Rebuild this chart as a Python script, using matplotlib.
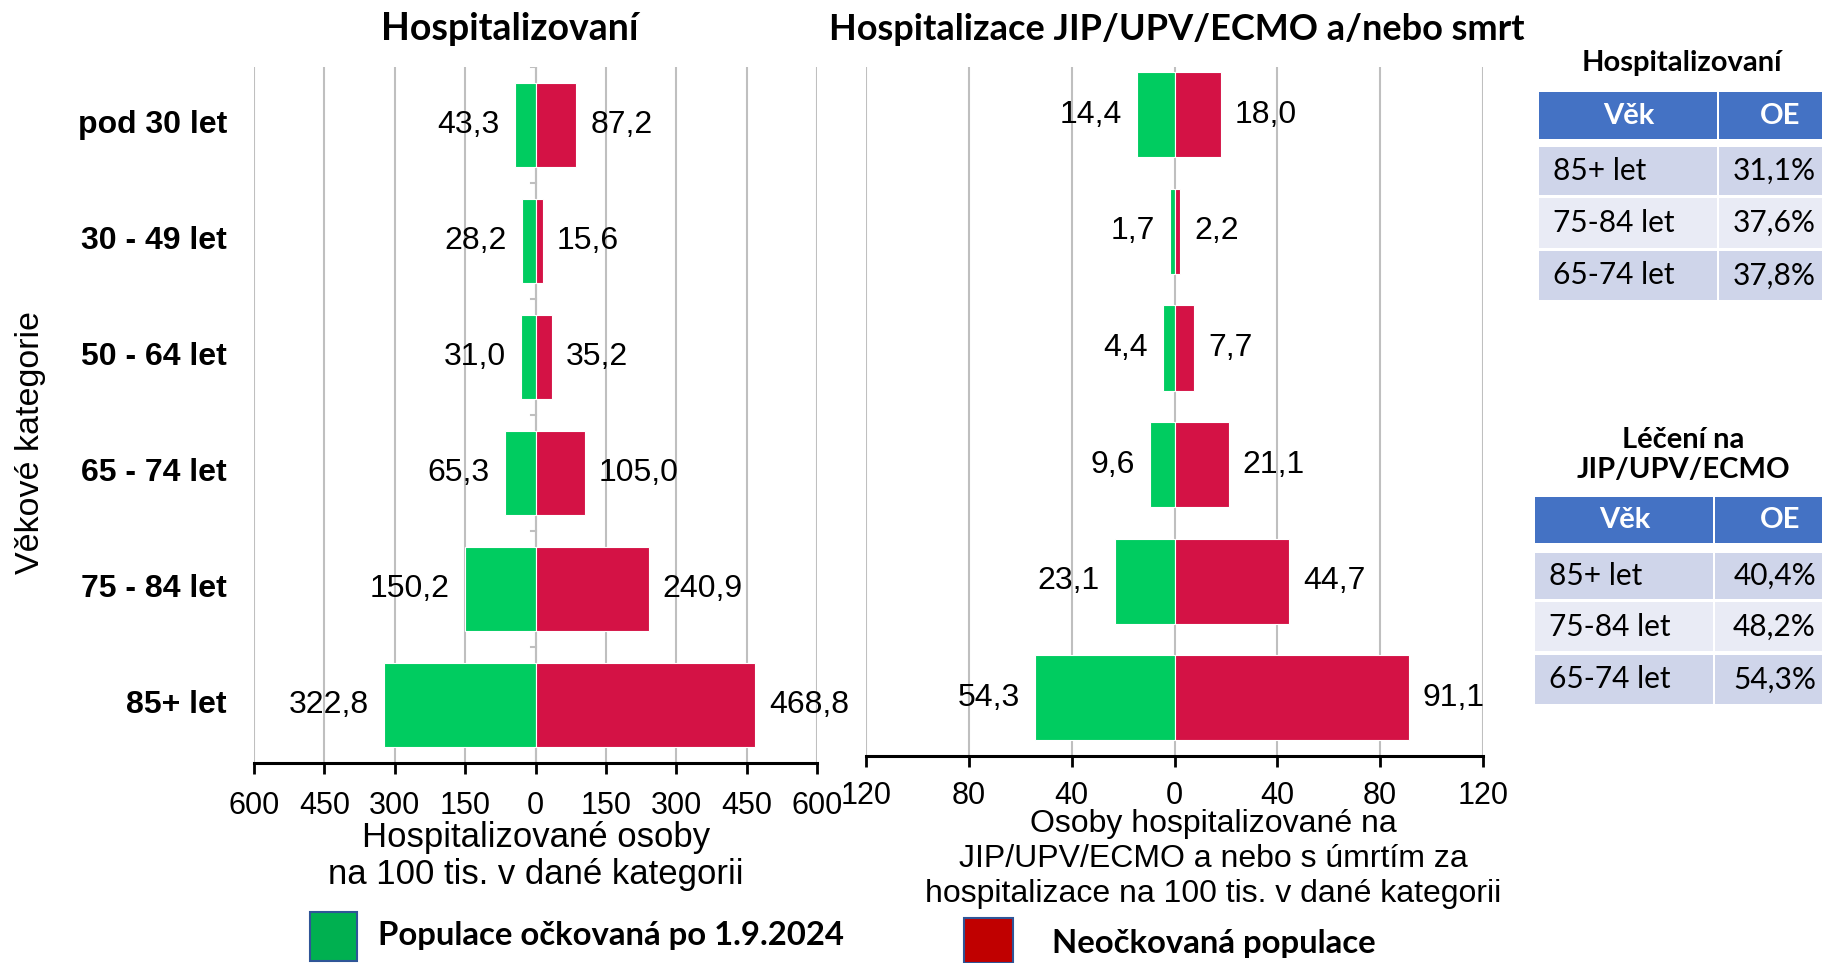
import numpy as np
import matplotlib.pyplot as plt
from matplotlib.patches import Rectangle

# data
categories = ['pod 30 let', '30 - 49 let', '50 - 64 let', '65 - 74 let', '75 - 84 let', '85+ let']
hosp_vacc = [43.3, 28.2, 31.0, 65.3, 150.2, 322.8]
hosp_unvacc = [87.2, 15.6, 35.2, 105.0, 240.9, 468.8]
icu_vacc = [14.4, 1.7, 4.4, 9.6, 23.1, 54.3]
icu_unvacc = [18.0, 2.2, 7.7, 21.1, 44.7, 91.1]

hosp_ticks = [-600, -450, -300, -150, 0, 150, 300, 450, 600]
icu_ticks = [-120, -80, -40, 0, 40, 80, 120]

table_ages = ['85+ let', '75-84 let', '65-74 let']
oe_hosp = ['31,1%', '37,6%', '37,8%']
oe_icu = ['40,4%', '48,2%', '54,3%']

legend_labels = ['Populace očkovaná po 1.9.2024', 'Neočkovaná populace']

W, H = 1822, 963
ARIAL = 'Liberation Sans'
CALIBRI = 'Lato'
GREEN = '#00CC60'
RED = '#D41245'
GRID = '#BFBFBF'


def fmt(v):
    return f'{v:.1f}'.replace('.', ',')


def draw_pyramid(ax, vacc, unvacc, ticks, ylim):
    y = np.arange(len(categories))
    for t in ticks:
        ax.axvline(t, color=GRID, lw=1.5, zorder=0)
    ax.barh(y, [-v for v in vacc], height=0.73, color=GREEN,
            edgecolor='white', linewidth=0.8, zorder=2)
    ax.barh(y, unvacc, height=0.73, color=RED,
            edgecolor='white', linewidth=0.8, zorder=2)
    for i, (a, b) in enumerate(zip(vacc, unvacc)):
        ax.annotate(fmt(a), (-a, i), xytext=(-11, 0), textcoords='offset points',
                    ha='right', va='center', fontsize=23, family=ARIAL)
        ax.annotate(fmt(b), (b, i), xytext=(10, 0), textcoords='offset points',
                    ha='left', va='center', fontsize=23, family=ARIAL)
    ax.set_xlim(ticks[0], ticks[-1])
    ax.set_ylim(ylim)
    ax.set_xticks(ticks)
    ax.set_xticklabels([str(abs(t)) for t in ticks], family=ARIAL)
    ax.set_yticks([])
    for s in ['top', 'right', 'left']:
        ax.spines[s].set_visible(False)
    ax.spines['bottom'].set_linewidth(2.2)
    ax.tick_params(axis='x', length=8, width=2, labelsize=22, pad=12)
    ax.set_facecolor('none')


fig = plt.figure(figsize=(W / 100, H / 100), dpi=100)

# left chart
ax1 = fig.add_axes([254 / W, 1 - 763 / H, 563 / W, 696 / H])
draw_pyramid(ax1, hosp_vacc, hosp_unvacc, hosp_ticks, (5.5, -0.5))
ax1.axvline(0, color=GRID, lw=1.5, zorder=1)
for b in np.arange(-0.5, len(categories), 1.0):
    ax1.plot([-10, 0], [b, b], color=GRID, lw=1.5, zorder=1)
for i, c in enumerate(categories):
    ax1.text(-0.048, i, c, transform=ax1.get_yaxis_transform(), ha='right',
             va='center', fontsize=23, fontweight='bold', family=ARIAL)

# right chart
ax2 = fig.add_axes([866 / W, 1 - 756 / H, 617 / W, 689 / H])
draw_pyramid(ax2, icu_vacc, icu_unvacc, icu_ticks, (5.5, -0.41))
ax2.tick_params(axis='x', pad=10)

# overlay in pixel coordinates for titles, labels, tables, legend
ov = fig.add_axes([0, 0, 1, 1])
ov.set_xlim(0, W)
ov.set_ylim(H, 0)
ov.axis('off')

ov.text(510, 29, 'Hospitalizovaní', ha='center', va='center', fontsize=27,
        fontweight='bold', family=CALIBRI)
ov.text(1177, 29, 'Hospitalizace JIP/UPV/ECMO a/nebo smrt', ha='center', va='center',
        fontsize=26, fontweight='bold', family=CALIBRI)
ov.text(31, 442, 'Věkové kategorie', rotation=90, ha='center', va='center',
        fontsize=24.5, family=ARIAL)
ov.text(536, 856, 'Hospitalizované osoby\nna 100 tis. v dané kategorii', ha='center',
        va='center', fontsize=25, family=ARIAL, linespacing=1.15)
ov.text(1213, 859, 'Osoby hospitalizované na\nJIP/UPV/ECMO a nebo s úmrtím za\n'
        'hospitalizace na 100 tis. v dané kategorii', ha='center', va='center',
        fontsize=23, family=ARIAL, linespacing=1.2)


def draw_table(x0, xs, header, rows, values):
    x1 = W + 10
    ov.add_patch(Rectangle((x0, header[0]), xs - x0 - 1, header[1] - header[0],
                           color='#4472C4', lw=0))
    ov.add_patch(Rectangle((xs + 1, header[0]), x1 - xs, header[1] - header[0],
                           color='#4472C4', lw=0))
    hy = (header[0] + header[1]) / 2
    ov.text((x0 + xs) / 2, hy, 'Věk', color='white', ha='center', va='center',
            fontsize=21, fontweight='bold', family=CALIBRI)
    ov.text(1780, hy, 'OE', color='white', ha='center', va='center',
            fontsize=21, fontweight='bold', family=CALIBRI)
    for k, ((top, bot), age, val) in enumerate(zip(rows, table_ages, values)):
        col = '#CFD5EA' if k % 2 == 0 else '#E9EBF5'
        ov.add_patch(Rectangle((x0, top), xs - x0 - 1, bot - top, color=col, lw=0))
        ov.add_patch(Rectangle((xs + 1, top), x1 - xs, bot - top, color=col, lw=0))
        ry = (top + bot) / 2
        ov.text(x0 + 14, ry, age, ha='left', va='center', fontsize=21.5, family=CALIBRI)
        ov.text(1816, ry, val, ha='right', va='center', fontsize=21.5, family=CALIBRI)


ov.text(1682, 63, 'Hospitalizovaní', ha='center', va='center', fontsize=21,
        fontweight='bold', family=CALIBRI)
draw_table(1539, 1718, (92, 139), [(147, 195), (198, 248), (251, 300)], oe_hosp)

ov.text(1683, 455, 'Léčení na\nJIP/UPV/ECMO', ha='center', va='center', fontsize=21,
        fontweight='bold', family=CALIBRI, linespacing=1.2)
draw_table(1535, 1714, (497, 543), [(553, 599), (602, 651), (655, 704)], oe_icu)

# legend
ov.add_patch(Rectangle((310, 912), 47, 49, facecolor='#00B050', edgecolor='#2F5597', lw=1.5))
ov.text(378, 935, legend_labels[0], ha='left', va='center', fontsize=23.7,
        fontweight='bold', family=CALIBRI)
ov.add_patch(Rectangle((964, 918), 49, 45, facecolor='#C00000', edgecolor='#2F5597', lw=1.5))
ov.text(1052, 944, legend_labels[1], ha='left', va='center', fontsize=23.7,
        fontweight='bold', family=CALIBRI)

fig.savefig('out.png', dpi=100)
